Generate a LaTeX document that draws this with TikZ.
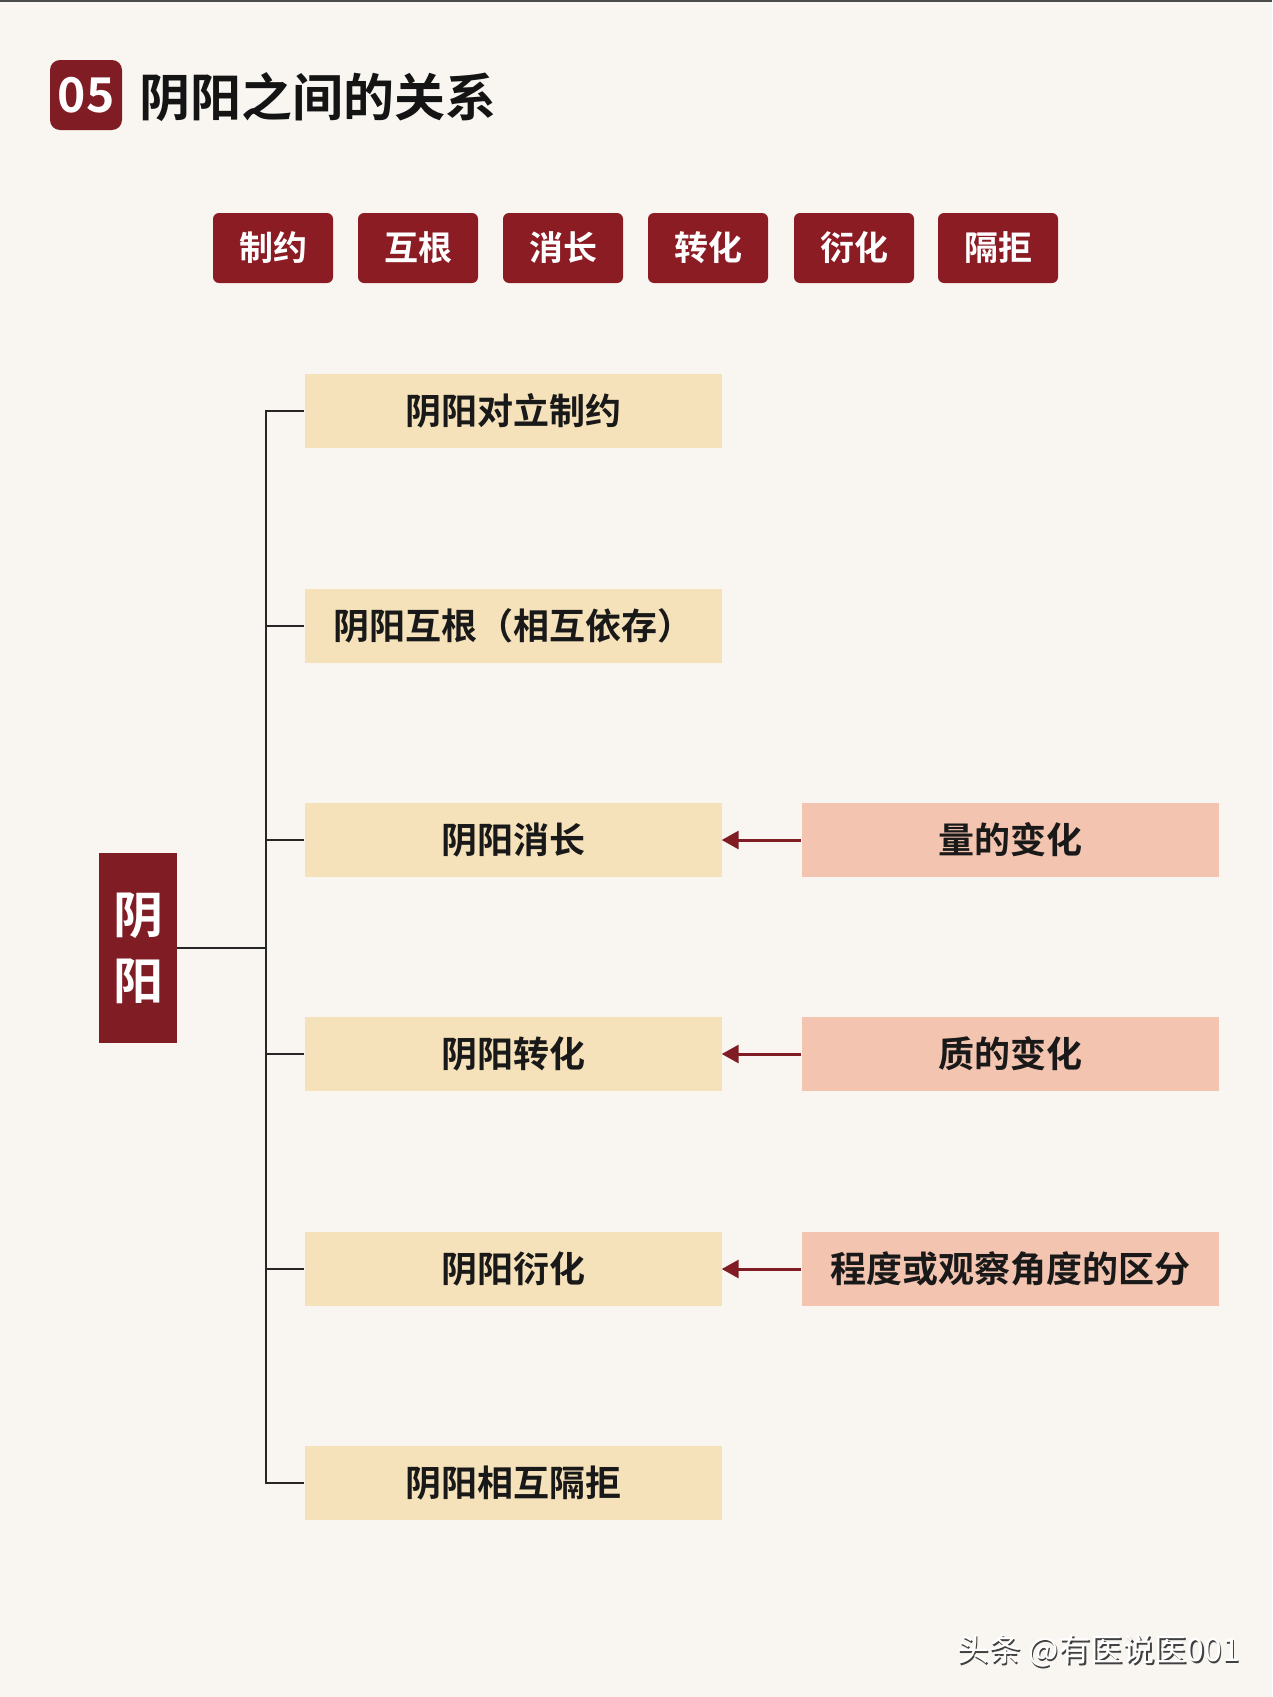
\documentclass[tikz,border=0pt]{standalone}
\usepackage{fontspec}
\setmainfont{Noto Sans CJK SC}[BoldFont={Noto Sans CJK SC Bold}]
\usetikzlibrary{arrows.meta}
\definecolor{bg}{RGB}{249,246,242}
\definecolor{dred}{RGB}{128,28,36}
\definecolor{ybox}{RGB}{245,226,186}
\definecolor{pbox}{RGB}{243,196,176}
\definecolor{tagred}{RGB}{140,28,36}
\begin{document}
\begin{tikzpicture}[x=1pt,y=-1pt,
  tagbox/.style={fill=tagred,rounded corners=6pt,minimum width=120pt,minimum height=70pt,
    text=white,font=\fontsize{34}{38}\selectfont\bfseries,inner sep=0pt},
  ybx/.style={fill=ybox,minimum width=417pt,minimum height=74pt,inner sep=0pt,
    font=\fontsize{36}{40}\selectfont\bfseries,text=black!90},
  pbx/.style={fill=pbox,minimum width=417pt,minimum height=74pt,inner sep=0pt,
    font=\fontsize{36}{40}\selectfont\bfseries,text=black!90},
  conn/.style={line width=2pt,black!85},
  arr/.style={line width=3pt,dred,-{Triangle[length=17pt,width=18pt]}}]
\fill[bg] (0,0) rectangle (1272,1697);
\useasboundingbox (0,0) rectangle (1272,1697);
\fill[black!70] (0,0) rectangle (1272,2);
% title
\node[fill=dred,rounded corners=10pt,minimum width=72pt,minimum height=70pt,inner sep=0pt,
  text=white,font=\fontsize{48}{50}\selectfont\bfseries] (badge) at (86,95) {05};
\node[anchor=west,inner sep=0pt,font=\fontsize{51}{54}\selectfont\bfseries,text=black!92] (title) at (139,97) {阴阳之间的关系};
% tags
\node[tagbox] (t1) at (273,248) {制约};
\node[tagbox] (t2) at (418,248) {互根};
\node[tagbox] (t3) at (563,248) {消长};
\node[tagbox] (t4) at (708,248) {转化};
\node[tagbox] (t5) at (854,248) {衍化};
\node[tagbox] (t6) at (998,248) {隔拒};
% root
\node[fill=dred,minimum width=78pt,minimum height=190pt,inner sep=0pt,text=white,
  font=\fontsize{50}{66}\selectfont\bfseries,align=center] (root) at (138,948) {阴\\阳};
% yellow boxes
\node[ybx] (y1) at (513,411) {阴阳对立制约};
\node[ybx] (y2) at (513,626) {阴阳互根（相互依存）};
\node[ybx] (y3) at (513,840) {阴阳消长};
\node[ybx] (y4) at (513,1054) {阴阳转化};
\node[ybx] (y5) at (513,1269) {阴阳衍化};
\node[ybx] (y6) at (513,1483) {阴阳相互隔拒};
% pink boxes
\node[pbx] (p3) at (1010,840) {量的变化};
\node[pbx] (p4) at (1010,1054) {质的变化};
\node[pbx] (p5) at (1010,1269) {程度或观察角度的区分};
% tree
\coordinate (spine) at (267,948);
\draw[conn] (root.east) -- (spine);
\draw[conn] (y1.west) -- ++(-38,0) |- (y6.west);
\foreach \n in {y2,y3,y4,y5} \draw[conn] (\n.west) -- ++(-38,0);
% arrows
\draw[arr] (p3.west) -- (y3.east);
\draw[arr] (p4.west) -- (y4.east);
\draw[arr] (p5.west) -- (y5.east);
% watermark
\node[anchor=east,inner sep=0pt,font=\fontsize{32}{34}\selectfont,text=black!75] (wms) at (1241.5,1652.5) {头条 @有医说医001};
\node[anchor=east,inner sep=0pt,font=\fontsize{32}{34}\selectfont,text=white] (wm) at (1240,1651) {头条 @有医说医001};
\end{tikzpicture}
\end{document}
